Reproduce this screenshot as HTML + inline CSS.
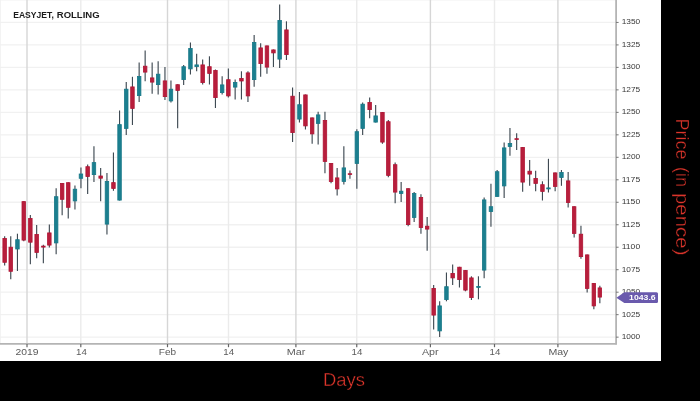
<!DOCTYPE html>
<html><head><meta charset="utf-8"><title>EASYJET, ROLLING</title>
<style>html,body{margin:0;padding:0;background:#000;}body{width:700px;height:401px;position:relative;overflow:hidden;font-family:"Liberation Sans",sans-serif;}</style></head>
<body>
<svg width="700" height="401" viewBox="0 0 700 401" style="position:absolute;left:0;top:0;font-family:'Liberation Sans',sans-serif">
<rect x="0" y="0" width="700" height="401" fill="#000"/>
<rect x="0" y="0" width="661" height="361" fill="#fff"/>
<line x1="0" x2="616" y1="337.15" y2="337.15" stroke="#f1f1f1" stroke-width="1.3"/>
<line x1="0" x2="616" y1="314.67" y2="314.67" stroke="#f1f1f1" stroke-width="1.3"/>
<line x1="0" x2="616" y1="292.19" y2="292.19" stroke="#f1f1f1" stroke-width="1.3"/>
<line x1="0" x2="616" y1="269.71" y2="269.71" stroke="#f1f1f1" stroke-width="1.3"/>
<line x1="0" x2="616" y1="247.23" y2="247.23" stroke="#f1f1f1" stroke-width="1.3"/>
<line x1="0" x2="616" y1="224.75" y2="224.75" stroke="#f1f1f1" stroke-width="1.3"/>
<line x1="0" x2="616" y1="202.27" y2="202.27" stroke="#f1f1f1" stroke-width="1.3"/>
<line x1="0" x2="616" y1="179.79" y2="179.79" stroke="#f1f1f1" stroke-width="1.3"/>
<line x1="0" x2="616" y1="157.31" y2="157.31" stroke="#f1f1f1" stroke-width="1.3"/>
<line x1="0" x2="616" y1="134.83" y2="134.83" stroke="#f1f1f1" stroke-width="1.3"/>
<line x1="0" x2="616" y1="112.35" y2="112.35" stroke="#f1f1f1" stroke-width="1.3"/>
<line x1="0" x2="616" y1="89.87" y2="89.87" stroke="#f1f1f1" stroke-width="1.3"/>
<line x1="0" x2="616" y1="67.39" y2="67.39" stroke="#f1f1f1" stroke-width="1.3"/>
<line x1="0" x2="616" y1="44.91" y2="44.91" stroke="#f1f1f1" stroke-width="1.3"/>
<line x1="0" x2="616" y1="22.43" y2="22.43" stroke="#f1f1f1" stroke-width="1.3"/>
<line x1="0" x2="616" y1="-0.05" y2="-0.05" stroke="#f1f1f1" stroke-width="1.3"/>
<line x1="27" x2="27" y1="0" y2="343.5" stroke="#d6d6d6" stroke-width="1.4"/>
<line x1="80.8" x2="80.8" y1="0" y2="343.5" stroke="#ebebeb" stroke-width="1.4"/>
<line x1="167.5" x2="167.5" y1="0" y2="343.5" stroke="#d6d6d6" stroke-width="1.4"/>
<line x1="228.5" x2="228.5" y1="0" y2="343.5" stroke="#ebebeb" stroke-width="1.4"/>
<line x1="295.9" x2="295.9" y1="0" y2="343.5" stroke="#d6d6d6" stroke-width="1.4"/>
<line x1="356.75" x2="356.75" y1="0" y2="343.5" stroke="#ebebeb" stroke-width="1.4"/>
<line x1="430.4" x2="430.4" y1="0" y2="343.5" stroke="#d6d6d6" stroke-width="1.4"/>
<line x1="494.5" x2="494.5" y1="0" y2="343.5" stroke="#ebebeb" stroke-width="1.4"/>
<line x1="557.9" x2="557.9" y1="0" y2="343.5" stroke="#d6d6d6" stroke-width="1.4"/>
<line x1="0.3" x2="0.3" y1="0" y2="343" stroke="#f0f0f0" stroke-width="1"/>
<line x1="4.65" x2="4.65" y1="236.3" y2="265.6" stroke="#3f4a53" stroke-width="1.15"/>
<rect x="2.90" y="238.40" width="3.50" height="23.90" fill="#b81e3c" stroke="#b01434" stroke-width="0.8"/>
<line x1="10.75" x2="10.75" y1="236.3" y2="279.3" stroke="#3f4a53" stroke-width="1.15"/>
<rect x="9.00" y="247.20" width="3.50" height="24.10" fill="#b81e3c" stroke="#b01434" stroke-width="0.8"/>
<line x1="17.45" x2="17.45" y1="233.7" y2="271.0" stroke="#3f4a53" stroke-width="1.15"/>
<rect x="15.70" y="239.70" width="3.50" height="9.30" fill="#1b7f8f" stroke="#177888" stroke-width="0.8"/>
<line x1="23.75" x2="23.75" y1="201.2" y2="241.3" stroke="#3f4a53" stroke-width="1.15"/>
<rect x="22.00" y="201.60" width="3.50" height="38.50" fill="#b81e3c" stroke="#b01434" stroke-width="0.8"/>
<line x1="30.35" x2="30.35" y1="215.0" y2="264.2" stroke="#3f4a53" stroke-width="1.15"/>
<rect x="28.60" y="218.40" width="3.50" height="23.80" fill="#b81e3c" stroke="#b01434" stroke-width="0.8"/>
<line x1="36.65" x2="36.65" y1="225.0" y2="258.2" stroke="#3f4a53" stroke-width="1.15"/>
<rect x="34.90" y="234.40" width="3.50" height="18.00" fill="#b81e3c" stroke="#b01434" stroke-width="0.8"/>
<line x1="43.35" x2="43.35" y1="244.8" y2="263.3" stroke="#3f4a53" stroke-width="1.15"/>
<rect x="41.60" y="246.10" width="3.50" height="1.00" fill="#b81e3c" stroke="#b01434" stroke-width="0.8"/>
<line x1="49.35" x2="49.35" y1="224.5" y2="247.4" stroke="#3f4a53" stroke-width="1.15"/>
<rect x="47.60" y="232.90" width="3.50" height="12.20" fill="#b81e3c" stroke="#b01434" stroke-width="0.8"/>
<line x1="56.15" x2="56.15" y1="188.3" y2="254.3" stroke="#3f4a53" stroke-width="1.15"/>
<rect x="54.40" y="196.70" width="3.50" height="46.20" fill="#1b7f8f" stroke="#177888" stroke-width="0.8"/>
<line x1="62.15" x2="62.15" y1="183.0" y2="215.2" stroke="#3f4a53" stroke-width="1.15"/>
<rect x="60.40" y="183.40" width="3.50" height="15.90" fill="#b81e3c" stroke="#b01434" stroke-width="0.8"/>
<line x1="68.25" x2="68.25" y1="182.3" y2="218.6" stroke="#3f4a53" stroke-width="1.15"/>
<rect x="66.50" y="182.70" width="3.50" height="24.60" fill="#b81e3c" stroke="#b01434" stroke-width="0.8"/>
<line x1="74.95" x2="74.95" y1="185.5" y2="209.5" stroke="#3f4a53" stroke-width="1.15"/>
<rect x="73.20" y="189.20" width="3.50" height="11.70" fill="#1b7f8f" stroke="#177888" stroke-width="0.8"/>
<line x1="80.95" x2="80.95" y1="167.5" y2="188.3" stroke="#3f4a53" stroke-width="1.15"/>
<rect x="79.20" y="174.00" width="3.50" height="4.30" fill="#1b7f8f" stroke="#177888" stroke-width="0.8"/>
<line x1="87.65" x2="87.65" y1="164.5" y2="194.0" stroke="#3f4a53" stroke-width="1.15"/>
<rect x="85.90" y="166.70" width="3.50" height="9.90" fill="#b81e3c" stroke="#b01434" stroke-width="0.8"/>
<line x1="93.95" x2="93.95" y1="146.3" y2="182.0" stroke="#3f4a53" stroke-width="1.15"/>
<rect x="92.20" y="162.60" width="3.50" height="12.00" fill="#1b7f8f" stroke="#177888" stroke-width="0.8"/>
<line x1="100.65" x2="100.65" y1="168.1" y2="201.3" stroke="#3f4a53" stroke-width="1.15"/>
<rect x="98.90" y="176.00" width="3.50" height="2.20" fill="#b81e3c" stroke="#b01434" stroke-width="0.8"/>
<line x1="106.95" x2="106.95" y1="173.0" y2="234.5" stroke="#3f4a53" stroke-width="1.15"/>
<rect x="105.20" y="181.40" width="3.50" height="42.70" fill="#1b7f8f" stroke="#177888" stroke-width="0.8"/>
<line x1="113.45" x2="113.45" y1="152.5" y2="190.8" stroke="#3f4a53" stroke-width="1.15"/>
<rect x="111.70" y="182.60" width="3.50" height="5.80" fill="#b81e3c" stroke="#b01434" stroke-width="0.8"/>
<line x1="119.55" x2="119.55" y1="110.5" y2="200.5" stroke="#3f4a53" stroke-width="1.15"/>
<rect x="117.80" y="124.60" width="3.50" height="75.50" fill="#1b7f8f" stroke="#177888" stroke-width="0.8"/>
<line x1="126.25" x2="126.25" y1="82.0" y2="135.0" stroke="#3f4a53" stroke-width="1.15"/>
<rect x="124.50" y="89.20" width="3.50" height="39.20" fill="#1b7f8f" stroke="#177888" stroke-width="0.8"/>
<line x1="132.45" x2="132.45" y1="76.8" y2="125.0" stroke="#3f4a53" stroke-width="1.15"/>
<rect x="130.70" y="86.90" width="3.50" height="21.50" fill="#b81e3c" stroke="#b01434" stroke-width="0.8"/>
<line x1="139.15" x2="139.15" y1="62.5" y2="102.0" stroke="#3f4a53" stroke-width="1.15"/>
<rect x="137.40" y="76.40" width="3.50" height="19.20" fill="#1b7f8f" stroke="#177888" stroke-width="0.8"/>
<line x1="145.15" x2="145.15" y1="50.5" y2="81.3" stroke="#3f4a53" stroke-width="1.15"/>
<rect x="143.40" y="66.20" width="3.50" height="5.90" fill="#b81e3c" stroke="#b01434" stroke-width="0.8"/>
<line x1="152.15" x2="152.15" y1="62.5" y2="93.8" stroke="#3f4a53" stroke-width="1.15"/>
<rect x="150.40" y="77.90" width="3.50" height="4.20" fill="#b81e3c" stroke="#b01434" stroke-width="0.8"/>
<line x1="158.15" x2="158.15" y1="61.3" y2="94.5" stroke="#3f4a53" stroke-width="1.15"/>
<rect x="156.40" y="74.20" width="3.50" height="10.40" fill="#1b7f8f" stroke="#177888" stroke-width="0.8"/>
<line x1="164.95" x2="164.95" y1="67.0" y2="100.0" stroke="#3f4a53" stroke-width="1.15"/>
<rect x="163.20" y="80.90" width="3.50" height="15.70" fill="#b81e3c" stroke="#b01434" stroke-width="0.8"/>
<line x1="170.95" x2="170.95" y1="80.5" y2="102.5" stroke="#3f4a53" stroke-width="1.15"/>
<rect x="169.20" y="89.20" width="3.50" height="11.70" fill="#1b7f8f" stroke="#177888" stroke-width="0.8"/>
<line x1="177.65" x2="177.65" y1="84.3" y2="128.3" stroke="#3f4a53" stroke-width="1.15"/>
<rect x="175.90" y="84.70" width="3.50" height="5.70" fill="#b81e3c" stroke="#b01434" stroke-width="0.8"/>
<line x1="183.65" x2="183.65" y1="65.0" y2="85.0" stroke="#3f4a53" stroke-width="1.15"/>
<rect x="181.90" y="66.70" width="3.50" height="12.90" fill="#1b7f8f" stroke="#177888" stroke-width="0.8"/>
<line x1="190.45" x2="190.45" y1="42.5" y2="74.5" stroke="#3f4a53" stroke-width="1.15"/>
<rect x="188.70" y="48.40" width="3.50" height="20.50" fill="#1b7f8f" stroke="#177888" stroke-width="0.8"/>
<line x1="196.65" x2="196.65" y1="53.8" y2="71.3" stroke="#3f4a53" stroke-width="1.15"/>
<rect x="194.90" y="64.90" width="3.50" height="1.70" fill="#1b7f8f" stroke="#177888" stroke-width="0.8"/>
<line x1="202.65" x2="202.65" y1="59.5" y2="84.5" stroke="#3f4a53" stroke-width="1.15"/>
<rect x="200.90" y="64.90" width="3.50" height="17.70" fill="#b81e3c" stroke="#b01434" stroke-width="0.8"/>
<line x1="209.45" x2="209.45" y1="56.3" y2="84.5" stroke="#3f4a53" stroke-width="1.15"/>
<rect x="207.70" y="66.70" width="3.50" height="6.70" fill="#b81e3c" stroke="#b01434" stroke-width="0.8"/>
<line x1="215.45" x2="215.45" y1="69.5" y2="108.0" stroke="#3f4a53" stroke-width="1.15"/>
<rect x="213.70" y="70.40" width="3.50" height="27.20" fill="#b81e3c" stroke="#b01434" stroke-width="0.8"/>
<line x1="222.15" x2="222.15" y1="76.3" y2="94.5" stroke="#3f4a53" stroke-width="1.15"/>
<rect x="220.40" y="84.90" width="3.50" height="7.70" fill="#1b7f8f" stroke="#177888" stroke-width="0.8"/>
<line x1="228.35" x2="228.35" y1="68.5" y2="97.5" stroke="#3f4a53" stroke-width="1.15"/>
<rect x="226.60" y="79.70" width="3.50" height="16.20" fill="#b81e3c" stroke="#b01434" stroke-width="0.8"/>
<line x1="235.15" x2="235.15" y1="79.4" y2="99.5" stroke="#3f4a53" stroke-width="1.15"/>
<rect x="233.40" y="82.40" width="3.50" height="4.70" fill="#1b7f8f" stroke="#177888" stroke-width="0.8"/>
<line x1="241.45" x2="241.45" y1="71.3" y2="99.5" stroke="#3f4a53" stroke-width="1.15"/>
<rect x="239.70" y="78.40" width="3.50" height="2.60" fill="#b81e3c" stroke="#b01434" stroke-width="0.8"/>
<line x1="247.95" x2="247.95" y1="71.3" y2="102.0" stroke="#3f4a53" stroke-width="1.15"/>
<rect x="246.20" y="72.90" width="3.50" height="23.00" fill="#b81e3c" stroke="#b01434" stroke-width="0.8"/>
<line x1="254.15" x2="254.15" y1="35.0" y2="86.8" stroke="#3f4a53" stroke-width="1.15"/>
<rect x="252.40" y="42.40" width="3.50" height="37.20" fill="#1b7f8f" stroke="#177888" stroke-width="0.8"/>
<line x1="260.65" x2="260.65" y1="43.3" y2="76.8" stroke="#3f4a53" stroke-width="1.15"/>
<rect x="258.90" y="47.90" width="3.50" height="15.70" fill="#b81e3c" stroke="#b01434" stroke-width="0.8"/>
<line x1="266.95" x2="266.95" y1="45.5" y2="73.8" stroke="#3f4a53" stroke-width="1.15"/>
<rect x="265.20" y="45.90" width="3.50" height="21.20" fill="#b81e3c" stroke="#b01434" stroke-width="0.8"/>
<line x1="273.45" x2="273.45" y1="49.5" y2="67.0" stroke="#3f4a53" stroke-width="1.15"/>
<rect x="271.70" y="49.90" width="3.50" height="3.00" fill="#b81e3c" stroke="#b01434" stroke-width="0.8"/>
<line x1="279.65" x2="279.65" y1="4.5" y2="68.0" stroke="#3f4a53" stroke-width="1.15"/>
<rect x="277.90" y="20.40" width="3.50" height="38.70" fill="#1b7f8f" stroke="#177888" stroke-width="0.8"/>
<line x1="286.45" x2="286.45" y1="21.3" y2="60.0" stroke="#3f4a53" stroke-width="1.15"/>
<rect x="284.70" y="29.90" width="3.50" height="24.70" fill="#b81e3c" stroke="#b01434" stroke-width="0.8"/>
<line x1="292.55" x2="292.55" y1="87.5" y2="142.0" stroke="#3f4a53" stroke-width="1.15"/>
<rect x="290.80" y="96.20" width="3.50" height="36.40" fill="#b81e3c" stroke="#b01434" stroke-width="0.8"/>
<line x1="299.45" x2="299.45" y1="92.0" y2="122.5" stroke="#3f4a53" stroke-width="1.15"/>
<rect x="297.70" y="104.70" width="3.50" height="14.40" fill="#1b7f8f" stroke="#177888" stroke-width="0.8"/>
<line x1="305.45" x2="305.45" y1="94.5" y2="129.5" stroke="#3f4a53" stroke-width="1.15"/>
<rect x="303.70" y="94.90" width="3.50" height="31.00" fill="#b81e3c" stroke="#b01434" stroke-width="0.8"/>
<line x1="312.15" x2="312.15" y1="117.5" y2="143.8" stroke="#3f4a53" stroke-width="1.15"/>
<rect x="310.40" y="117.90" width="3.50" height="16.00" fill="#b81e3c" stroke="#b01434" stroke-width="0.8"/>
<line x1="318.15" x2="318.15" y1="111.8" y2="144.5" stroke="#3f4a53" stroke-width="1.15"/>
<rect x="316.40" y="114.90" width="3.50" height="8.50" fill="#1b7f8f" stroke="#177888" stroke-width="0.8"/>
<line x1="324.95" x2="324.95" y1="111.8" y2="173.2" stroke="#3f4a53" stroke-width="1.15"/>
<rect x="323.20" y="120.40" width="3.50" height="41.00" fill="#b81e3c" stroke="#b01434" stroke-width="0.8"/>
<line x1="331.05" x2="331.05" y1="163.0" y2="183.3" stroke="#3f4a53" stroke-width="1.15"/>
<rect x="329.30" y="163.40" width="3.50" height="18.20" fill="#b81e3c" stroke="#b01434" stroke-width="0.8"/>
<line x1="337.15" x2="337.15" y1="168.0" y2="195.5" stroke="#3f4a53" stroke-width="1.15"/>
<rect x="335.40" y="177.90" width="3.50" height="11.00" fill="#b81e3c" stroke="#b01434" stroke-width="0.8"/>
<line x1="343.85" x2="343.85" y1="146.3" y2="184.5" stroke="#3f4a53" stroke-width="1.15"/>
<rect x="342.10" y="167.90" width="3.50" height="13.50" fill="#1b7f8f" stroke="#177888" stroke-width="0.8"/>
<line x1="349.95" x2="349.95" y1="170.6" y2="178.8" stroke="#3f4a53" stroke-width="1.15"/>
<rect x="348.20" y="173.70" width="3.50" height="0.90" fill="#b81e3c" stroke="#b01434" stroke-width="0.8"/>
<line x1="356.85" x2="356.85" y1="129.3" y2="188.8" stroke="#3f4a53" stroke-width="1.15"/>
<rect x="355.10" y="131.70" width="3.50" height="31.70" fill="#1b7f8f" stroke="#177888" stroke-width="0.8"/>
<line x1="362.65" x2="362.65" y1="102.5" y2="135.0" stroke="#3f4a53" stroke-width="1.15"/>
<rect x="360.90" y="104.20" width="3.50" height="24.20" fill="#1b7f8f" stroke="#177888" stroke-width="0.8"/>
<line x1="369.65" x2="369.65" y1="97.5" y2="118.3" stroke="#3f4a53" stroke-width="1.15"/>
<rect x="367.90" y="102.40" width="3.50" height="7.20" fill="#b81e3c" stroke="#b01434" stroke-width="0.8"/>
<line x1="375.65" x2="375.65" y1="105.0" y2="122.5" stroke="#3f4a53" stroke-width="1.15"/>
<rect x="373.90" y="115.90" width="3.50" height="6.20" fill="#1b7f8f" stroke="#177888" stroke-width="0.8"/>
<line x1="382.45" x2="382.45" y1="112.0" y2="143.8" stroke="#3f4a53" stroke-width="1.15"/>
<rect x="380.70" y="112.40" width="3.50" height="29.70" fill="#b81e3c" stroke="#b01434" stroke-width="0.8"/>
<line x1="388.35" x2="388.35" y1="120.0" y2="177.3" stroke="#3f4a53" stroke-width="1.15"/>
<rect x="386.60" y="121.70" width="3.50" height="53.70" fill="#b81e3c" stroke="#b01434" stroke-width="0.8"/>
<line x1="395.15" x2="395.15" y1="162.5" y2="203.3" stroke="#3f4a53" stroke-width="1.15"/>
<rect x="393.40" y="164.70" width="3.50" height="27.40" fill="#b81e3c" stroke="#b01434" stroke-width="0.8"/>
<line x1="401.15" x2="401.15" y1="182.0" y2="202.0" stroke="#3f4a53" stroke-width="1.15"/>
<rect x="399.40" y="191.20" width="3.50" height="2.40" fill="#1b7f8f" stroke="#177888" stroke-width="0.8"/>
<line x1="408.15" x2="408.15" y1="188.3" y2="226.3" stroke="#3f4a53" stroke-width="1.15"/>
<rect x="406.40" y="188.70" width="3.50" height="35.90" fill="#b81e3c" stroke="#b01434" stroke-width="0.8"/>
<line x1="414.15" x2="414.15" y1="192.0" y2="222.0" stroke="#3f4a53" stroke-width="1.15"/>
<rect x="412.40" y="193.40" width="3.50" height="24.20" fill="#1b7f8f" stroke="#177888" stroke-width="0.8"/>
<line x1="420.95" x2="420.95" y1="194.3" y2="233.8" stroke="#3f4a53" stroke-width="1.15"/>
<rect x="419.20" y="197.40" width="3.50" height="30.20" fill="#b81e3c" stroke="#b01434" stroke-width="0.8"/>
<line x1="427.15" x2="427.15" y1="217.0" y2="250.8" stroke="#3f4a53" stroke-width="1.15"/>
<rect x="425.40" y="226.20" width="3.50" height="2.90" fill="#b81e3c" stroke="#b01434" stroke-width="0.8"/>
<line x1="433.65" x2="433.65" y1="285.0" y2="329.5" stroke="#3f4a53" stroke-width="1.15"/>
<rect x="431.90" y="288.40" width="3.50" height="26.70" fill="#b81e3c" stroke="#b01434" stroke-width="0.8"/>
<line x1="439.65" x2="439.65" y1="301.3" y2="337.0" stroke="#3f4a53" stroke-width="1.15"/>
<rect x="437.90" y="305.90" width="3.50" height="25.00" fill="#1b7f8f" stroke="#177888" stroke-width="0.8"/>
<line x1="446.45" x2="446.45" y1="272.5" y2="301.3" stroke="#3f4a53" stroke-width="1.15"/>
<rect x="444.70" y="286.70" width="3.50" height="12.90" fill="#1b7f8f" stroke="#177888" stroke-width="0.8"/>
<line x1="452.65" x2="452.65" y1="264.5" y2="285.0" stroke="#3f4a53" stroke-width="1.15"/>
<rect x="450.90" y="273.40" width="3.50" height="4.50" fill="#b81e3c" stroke="#b01434" stroke-width="0.8"/>
<line x1="459.45" x2="459.45" y1="266.8" y2="287.5" stroke="#3f4a53" stroke-width="1.15"/>
<rect x="457.70" y="267.20" width="3.50" height="12.40" fill="#b81e3c" stroke="#b01434" stroke-width="0.8"/>
<line x1="465.45" x2="465.45" y1="270.0" y2="291.3" stroke="#3f4a53" stroke-width="1.15"/>
<rect x="463.70" y="270.40" width="3.50" height="19.70" fill="#b81e3c" stroke="#b01434" stroke-width="0.8"/>
<line x1="471.45" x2="471.45" y1="276.3" y2="300.0" stroke="#3f4a53" stroke-width="1.15"/>
<rect x="469.70" y="277.90" width="3.50" height="19.70" fill="#b81e3c" stroke="#b01434" stroke-width="0.8"/>
<line x1="478.45" x2="478.45" y1="276.3" y2="299.3" stroke="#3f4a53" stroke-width="1.15"/>
<rect x="476.70" y="286.40" width="3.50" height="1.00" fill="#1b7f8f" stroke="#177888" stroke-width="0.8"/>
<line x1="484.15" x2="484.15" y1="197.5" y2="278.3" stroke="#3f4a53" stroke-width="1.15"/>
<rect x="482.40" y="199.90" width="3.50" height="70.20" fill="#1b7f8f" stroke="#177888" stroke-width="0.8"/>
<line x1="490.95" x2="490.95" y1="183.8" y2="226.8" stroke="#3f4a53" stroke-width="1.15"/>
<rect x="489.20" y="206.70" width="3.50" height="4.90" fill="#1b7f8f" stroke="#177888" stroke-width="0.8"/>
<line x1="497.15" x2="497.15" y1="170.0" y2="196.8" stroke="#3f4a53" stroke-width="1.15"/>
<rect x="495.40" y="171.70" width="3.50" height="24.70" fill="#1b7f8f" stroke="#177888" stroke-width="0.8"/>
<line x1="504.15" x2="504.15" y1="142.5" y2="198.0" stroke="#3f4a53" stroke-width="1.15"/>
<rect x="502.40" y="147.90" width="3.50" height="38.00" fill="#1b7f8f" stroke="#177888" stroke-width="0.8"/>
<line x1="509.95" x2="509.95" y1="128.0" y2="155.8" stroke="#3f4a53" stroke-width="1.15"/>
<rect x="508.20" y="143.40" width="3.50" height="3.20" fill="#1b7f8f" stroke="#177888" stroke-width="0.8"/>
<line x1="516.65" x2="516.65" y1="133.3" y2="150.0" stroke="#3f4a53" stroke-width="1.15"/>
<rect x="514.90" y="138.70" width="3.50" height="0.80" fill="#b81e3c" stroke="#b01434" stroke-width="0.8"/>
<line x1="522.65" x2="522.65" y1="147.0" y2="191.8" stroke="#3f4a53" stroke-width="1.15"/>
<rect x="520.90" y="147.40" width="3.50" height="34.70" fill="#b81e3c" stroke="#b01434" stroke-width="0.8"/>
<line x1="529.65" x2="529.65" y1="160.0" y2="185.8" stroke="#3f4a53" stroke-width="1.15"/>
<rect x="527.90" y="171.20" width="3.50" height="2.90" fill="#b81e3c" stroke="#b01434" stroke-width="0.8"/>
<line x1="535.65" x2="535.65" y1="170.8" y2="191.3" stroke="#3f4a53" stroke-width="1.15"/>
<rect x="533.90" y="178.40" width="3.50" height="5.00" fill="#b81e3c" stroke="#b01434" stroke-width="0.8"/>
<line x1="542.45" x2="542.45" y1="181.3" y2="200.5" stroke="#3f4a53" stroke-width="1.15"/>
<rect x="540.70" y="184.70" width="3.50" height="6.70" fill="#b81e3c" stroke="#b01434" stroke-width="0.8"/>
<line x1="548.45" x2="548.45" y1="158.8" y2="192.5" stroke="#3f4a53" stroke-width="1.15"/>
<rect x="546.70" y="187.90" width="3.50" height="1.00" fill="#1b7f8f" stroke="#177888" stroke-width="0.8"/>
<line x1="555.15" x2="555.15" y1="172.5" y2="191.3" stroke="#3f4a53" stroke-width="1.15"/>
<rect x="553.40" y="172.90" width="3.50" height="13.50" fill="#b81e3c" stroke="#b01434" stroke-width="0.8"/>
<line x1="561.45" x2="561.45" y1="170.0" y2="185.8" stroke="#3f4a53" stroke-width="1.15"/>
<rect x="559.70" y="172.40" width="3.50" height="5.20" fill="#1b7f8f" stroke="#177888" stroke-width="0.8"/>
<line x1="568.15" x2="568.15" y1="172.0" y2="207.5" stroke="#3f4a53" stroke-width="1.15"/>
<rect x="566.40" y="180.90" width="3.50" height="21.70" fill="#b81e3c" stroke="#b01434" stroke-width="0.8"/>
<line x1="574.15" x2="574.15" y1="206.3" y2="237.5" stroke="#3f4a53" stroke-width="1.15"/>
<rect x="572.40" y="206.70" width="3.50" height="26.70" fill="#b81e3c" stroke="#b01434" stroke-width="0.8"/>
<line x1="580.95" x2="580.95" y1="225.8" y2="258.8" stroke="#3f4a53" stroke-width="1.15"/>
<rect x="579.20" y="234.20" width="3.50" height="22.40" fill="#b81e3c" stroke="#b01434" stroke-width="0.8"/>
<line x1="587.15" x2="587.15" y1="254.5" y2="292.5" stroke="#3f4a53" stroke-width="1.15"/>
<rect x="585.40" y="254.90" width="3.50" height="33.50" fill="#b81e3c" stroke="#b01434" stroke-width="0.8"/>
<line x1="593.85" x2="593.85" y1="283.0" y2="309.3" stroke="#3f4a53" stroke-width="1.15"/>
<rect x="592.10" y="283.40" width="3.50" height="22.50" fill="#b81e3c" stroke="#b01434" stroke-width="0.8"/>
<line x1="599.85" x2="599.85" y1="285.8" y2="303.3" stroke="#3f4a53" stroke-width="1.15"/>
<rect x="598.10" y="287.90" width="3.50" height="9.20" fill="#b81e3c" stroke="#b01434" stroke-width="0.8"/>
<line x1="616.1" x2="616.1" y1="0" y2="344.6" stroke="#b4b4b4" stroke-width="1.8"/>
<line x1="0" x2="616.8" y1="343.9" y2="343.9" stroke="#b4b4b4" stroke-width="1.8"/>
<line x1="27" x2="27" y1="344" y2="347.2" stroke="#666" stroke-width="1.2"/>
<text x="15.50" y="354.5" font-size="8.2" fill="#5a5a5a" textLength="23" lengthAdjust="spacingAndGlyphs">2019</text>
<line x1="80.8" x2="80.8" y1="344" y2="347.2" stroke="#666" stroke-width="1.2"/>
<text x="76.00" y="354.5" font-size="8.2" fill="#5a5a5a" textLength="10.8" lengthAdjust="spacingAndGlyphs">14</text>
<line x1="167.5" x2="167.5" y1="344" y2="347.2" stroke="#666" stroke-width="1.2"/>
<text x="158.75" y="354.5" font-size="8.2" fill="#5a5a5a" textLength="17.3" lengthAdjust="spacingAndGlyphs">Feb</text>
<line x1="228.5" x2="228.5" y1="344" y2="347.2" stroke="#666" stroke-width="1.2"/>
<text x="223.30" y="354.5" font-size="8.2" fill="#5a5a5a" textLength="10.8" lengthAdjust="spacingAndGlyphs">14</text>
<line x1="295.9" x2="295.9" y1="344" y2="347.2" stroke="#666" stroke-width="1.2"/>
<text x="286.70" y="354.5" font-size="8.2" fill="#5a5a5a" textLength="18.6" lengthAdjust="spacingAndGlyphs">Mar</text>
<line x1="356.75" x2="356.75" y1="344" y2="347.2" stroke="#666" stroke-width="1.2"/>
<text x="351.50" y="354.5" font-size="8.2" fill="#5a5a5a" textLength="10.8" lengthAdjust="spacingAndGlyphs">14</text>
<line x1="430.4" x2="430.4" y1="344" y2="347.2" stroke="#666" stroke-width="1.2"/>
<text x="421.95" y="354.5" font-size="8.2" fill="#5a5a5a" textLength="16.7" lengthAdjust="spacingAndGlyphs">Apr</text>
<line x1="494.5" x2="494.5" y1="344" y2="347.2" stroke="#666" stroke-width="1.2"/>
<text x="489.50" y="354.5" font-size="8.2" fill="#5a5a5a" textLength="10.8" lengthAdjust="spacingAndGlyphs">14</text>
<line x1="557.9" x2="557.9" y1="344" y2="347.2" stroke="#666" stroke-width="1.2"/>
<text x="548.40" y="354.5" font-size="8.2" fill="#5a5a5a" textLength="20" lengthAdjust="spacingAndGlyphs">May</text>
<line x1="616" x2="618.6" y1="337.15" y2="337.15" stroke="#777" stroke-width="1"/>
<text x="621.7" y="339.05" font-size="7.5" fill="#383838" textLength="18.5" lengthAdjust="spacingAndGlyphs">1000</text>
<line x1="616" x2="618.6" y1="314.67" y2="314.67" stroke="#777" stroke-width="1"/>
<text x="621.7" y="316.57" font-size="7.5" fill="#383838" textLength="18.5" lengthAdjust="spacingAndGlyphs">1025</text>
<line x1="616" x2="618.6" y1="292.19" y2="292.19" stroke="#777" stroke-width="1"/>
<text x="621.7" y="294.09" font-size="7.5" fill="#383838" textLength="18.5" lengthAdjust="spacingAndGlyphs">1050</text>
<line x1="616" x2="618.6" y1="269.71" y2="269.71" stroke="#777" stroke-width="1"/>
<text x="621.7" y="271.61" font-size="7.5" fill="#383838" textLength="18.5" lengthAdjust="spacingAndGlyphs">1075</text>
<line x1="616" x2="618.6" y1="247.23" y2="247.23" stroke="#777" stroke-width="1"/>
<text x="621.7" y="249.13" font-size="7.5" fill="#383838" textLength="18.5" lengthAdjust="spacingAndGlyphs">1100</text>
<line x1="616" x2="618.6" y1="224.75" y2="224.75" stroke="#777" stroke-width="1"/>
<text x="621.7" y="226.65" font-size="7.5" fill="#383838" textLength="18.5" lengthAdjust="spacingAndGlyphs">1125</text>
<line x1="616" x2="618.6" y1="202.27" y2="202.27" stroke="#777" stroke-width="1"/>
<text x="621.7" y="204.17" font-size="7.5" fill="#383838" textLength="18.5" lengthAdjust="spacingAndGlyphs">1150</text>
<line x1="616" x2="618.6" y1="179.79" y2="179.79" stroke="#777" stroke-width="1"/>
<text x="621.7" y="181.69" font-size="7.5" fill="#383838" textLength="18.5" lengthAdjust="spacingAndGlyphs">1175</text>
<line x1="616" x2="618.6" y1="157.31" y2="157.31" stroke="#777" stroke-width="1"/>
<text x="621.7" y="159.21" font-size="7.5" fill="#383838" textLength="18.5" lengthAdjust="spacingAndGlyphs">1200</text>
<line x1="616" x2="618.6" y1="134.83" y2="134.83" stroke="#777" stroke-width="1"/>
<text x="621.7" y="136.73" font-size="7.5" fill="#383838" textLength="18.5" lengthAdjust="spacingAndGlyphs">1225</text>
<line x1="616" x2="618.6" y1="112.35" y2="112.35" stroke="#777" stroke-width="1"/>
<text x="621.7" y="114.25" font-size="7.5" fill="#383838" textLength="18.5" lengthAdjust="spacingAndGlyphs">1250</text>
<line x1="616" x2="618.6" y1="89.87" y2="89.87" stroke="#777" stroke-width="1"/>
<text x="621.7" y="91.77" font-size="7.5" fill="#383838" textLength="18.5" lengthAdjust="spacingAndGlyphs">1275</text>
<line x1="616" x2="618.6" y1="67.39" y2="67.39" stroke="#777" stroke-width="1"/>
<text x="621.7" y="69.29" font-size="7.5" fill="#383838" textLength="18.5" lengthAdjust="spacingAndGlyphs">1300</text>
<line x1="616" x2="618.6" y1="44.91" y2="44.91" stroke="#777" stroke-width="1"/>
<text x="621.7" y="46.81" font-size="7.5" fill="#383838" textLength="18.5" lengthAdjust="spacingAndGlyphs">1325</text>
<line x1="616" x2="618.6" y1="22.43" y2="22.43" stroke="#777" stroke-width="1"/>
<text x="621.7" y="24.33" font-size="7.5" fill="#383838" textLength="18.5" lengthAdjust="spacingAndGlyphs">1350</text>
<path d="M616.4 297.7 L624.3 292.3 H656.5 Q658 292.3 658 293.8 V301.5 Q658 303 656.5 303 H624.3 Z" fill="#6a5aad"/>
<text x="629.1" y="300.1" font-size="6.6" font-weight="bold" fill="#fff" textLength="26.6" lengthAdjust="spacingAndGlyphs">1043.6</text>
<text y="18.1" font-size="8.4" font-weight="bold" fill="#1c1c1c"><tspan x="13.2" textLength="40.6" lengthAdjust="spacingAndGlyphs">EASYJET,</tspan> <tspan x="56.8" textLength="42.8" lengthAdjust="spacingAndGlyphs">ROLLING</tspan></text>
<text x="323" y="386" font-size="18" fill="#dc352b" stroke="#000" stroke-width="0.35" textLength="42" lengthAdjust="spacingAndGlyphs">Days</text>
<g transform="translate(675.9,0) rotate(90)" font-size="18.5" fill="#dc352b" stroke="#000" stroke-width="0.35"><text x="118.6" y="0" textLength="41" lengthAdjust="spacingAndGlyphs">Price</text><text x="167" y="0" textLength="20" lengthAdjust="spacingAndGlyphs">(in</text><text x="193" y="0" textLength="62.5" lengthAdjust="spacingAndGlyphs">pence)</text></g>
</svg>
</body></html>
